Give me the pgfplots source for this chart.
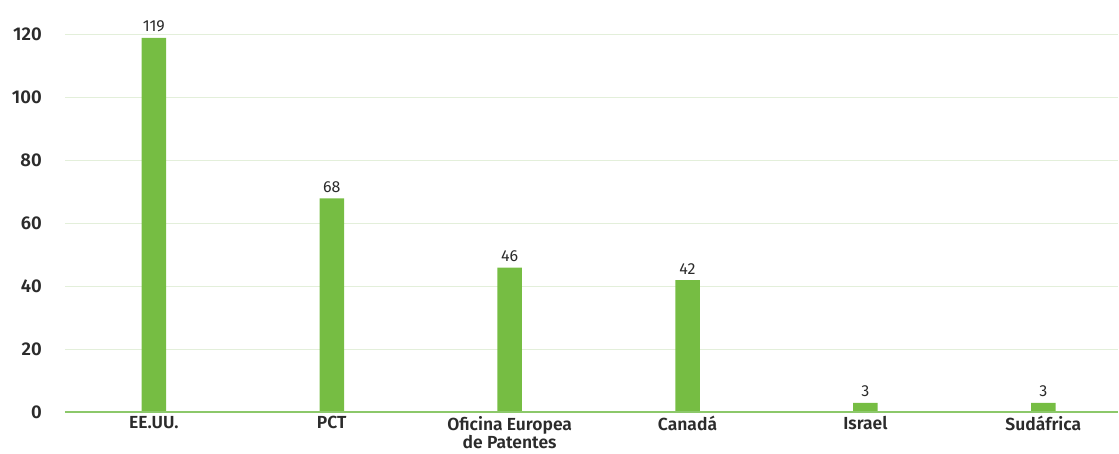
\documentclass[border=0pt]{standalone}
\usepackage{pgfplots}
\pgfplotsset{compat=1.18}
\usepackage{fontspec}
\setmainfont{Fira Sans}[BoldFont={Fira Sans SemiBold}]
\definecolor{barg}{HTML}{76BD43}
\definecolor{gridg}{HTML}{E3EFDA}
\definecolor{axg}{HTML}{8CC86A}
\definecolor{txt}{HTML}{2B2B2B}
\begin{document}
\begin{tikzpicture}
\begin{axis}[
  name=ax,
  scale only axis,
  width=1054pt, height=412.7pt,
  xmin=-0.5, xmax=5.42,
  ymin=0, ymax=131,
  ytick={0,20,...,120},
  xtick={0,1,2,3,4,5},
  xticklabels={EE.UU., PCT, {Oficina Europea\\de Patentes}, Canadá, Israel, Sudáfrica},
  axis line style={draw=none},
  major tick length=0pt,
  ymajorgrids, grid style={gridg, line width=1.2pt},
  /pgf/number format/assume math mode=true,
  yticklabel style={font=\fontsize{18.5}{18.5}\selectfont\bfseries, text=txt, inner sep=0pt, anchor=east, xshift=-23pt},
  xticklabel style={font=\fontsize{17.5}{14.8}\selectfont\bfseries, text=txt, inner sep=0pt, anchor=north, yshift=-3.5pt, align=center},
  clip=false,
  ybar, bar width=24.5pt,
  nodes near coords,
  every node near coord/.append style={font=\fontsize{16}{16}\selectfont, text=txt, inner sep=0pt, anchor=south, yshift=6pt},
]
\addplot[fill=barg, draw=none] coordinates {(0,119) (1,68) (2,46) (3,42) (4,3) (5,3)};
\draw[axg, line width=2pt] (rel axis cs:0,0) -- (rel axis cs:1,0);
\end{axis}
\path[use as bounding box] (ax.south west) ++(-65pt,-41pt) rectangle (ax.north east);
\end{tikzpicture}
\end{document}
